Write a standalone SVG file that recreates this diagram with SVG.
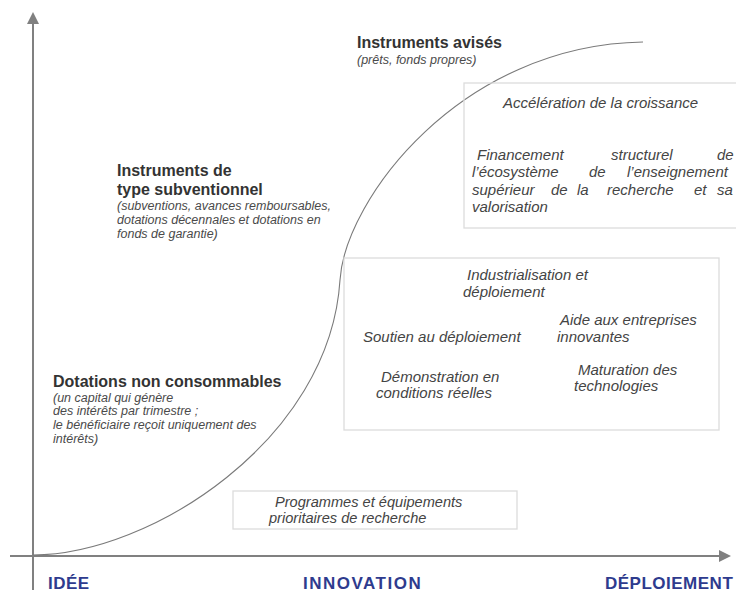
<svg xmlns="http://www.w3.org/2000/svg" width="736" height="592" viewBox="0 0 736 592">
<defs>
<marker id="arr" viewBox="0 0 12 12" refX="0" refY="6" markerWidth="12" markerHeight="12" markerUnits="userSpaceOnUse" orient="auto">
<path d="M0,0 L12,6 L0,12 z" fill="#808080"/>
</marker>
<style>
.t{font-family:"Liberation Sans",Arial,sans-serif;font-weight:bold;font-size:16px;fill:#333}
.s{font-family:"Liberation Sans",Arial,sans-serif;font-style:italic;font-size:12.5px;fill:#4a4a4a}
.b{font-family:"Liberation Sans",Arial,sans-serif;font-style:italic;font-size:15px;fill:#444}
.ax{font-family:"Liberation Sans",Arial,sans-serif;font-weight:bold;font-size:17px;fill:#2e3b8e;letter-spacing:0.5px}
.box{fill:none;stroke:#dcdcdc;stroke-width:1.3}
.axis{stroke:#808080;stroke-width:2;fill:none}
.curve{stroke:#7a7a7a;stroke-width:1.1;fill:none}
</style>
</defs>
<rect width="736" height="592" fill="#fff"/>

<g id="connectors">
<line class="axis" x1="33" y1="590" x2="33" y2="24" marker-end="url(#arr)"/>
<line class="axis" x1="10" y1="556" x2="719" y2="556" marker-end="url(#arr)"/>
<path class="curve" d="M33,555 C150,555 330,440 340,280 C345,200 460,45 643,42"/>
</g>

<g id="axis-labels">
<text class="ax" x="48" y="589">IDÉE</text>
<text class="ax" x="303" y="589" style="letter-spacing:1.5px">INNOVATION</text>
<text class="ax" x="605" y="589">DÉPLOIEMENT</text>
</g>

<g id="instruments-avises">
<text class="t" x="357" y="48">Instruments avisés</text>
<text class="s" x="357" y="64">(prêts, fonds propres)</text>
</g>

<g id="instruments-subventionnel">
<text class="t" x="117" y="176">Instruments de</text>
<text class="t" x="117" y="195">type subventionnel</text>
<text class="s" x="117" y="210">(subventions, avances remboursables,</text>
<text class="s" x="117" y="224">dotations décennales et dotations en</text>
<text class="s" x="117" y="238">fonds de garantie)</text>
</g>

<g id="dotations">
<text class="t" x="53" y="387">Dotations non consommables</text>
<text class="s" x="53" y="402">(un capital qui génère</text>
<text class="s" x="53" y="415">des intérêts par trimestre ;</text>
<text class="s" x="53" y="429">le bénéficiaire reçoit uniquement des</text>
<text class="s" x="53" y="443">intérêts)</text>
</g>

<g id="box-croissance">
<rect class="box" x="464" y="83" width="290" height="145"/>
<text class="b" x="503" y="108">Accélération de la croissance</text>
<text class="b" y="160"><tspan x="477">Financement</tspan><tspan x="611">structurel</tspan><tspan x="717">de</tspan></text>
<text class="b" y="177"><tspan x="472">l’écosystème</tspan><tspan x="589">de</tspan><tspan x="627">l’enseignement</tspan></text>
<text class="b" y="195"><tspan x="472">supérieur</tspan><tspan x="551">de</tspan><tspan x="577">la</tspan><tspan x="607">recherche</tspan><tspan x="694">et</tspan><tspan x="717">sa</tspan></text>
<text class="b" x="472" y="212">valorisation</text>
</g>

<g id="box-innovation">
<rect class="box" x="344" y="258" width="375" height="172"/>
<text class="b" x="467" y="280">Industrialisation et</text>
<text class="b" x="463" y="297">déploiement</text>
<text class="b" x="560" y="325">Aide aux entreprises</text>
<text class="b" x="557" y="342">innovantes</text>
<text class="b" x="363" y="342">Soutien au déploiement</text>
<text class="b" x="578" y="375">Maturation des</text>
<text class="b" x="574" y="391">technologies</text>
<text class="b" x="381" y="382">Démonstration en</text>
<text class="b" x="376" y="398">conditions réelles</text>
</g>

<g id="box-programmes">
<rect class="box" x="233" y="491" width="284" height="38"/>
<text class="b" x="275" y="507" style="font-size:14.6px">Programmes et équipements</text>
<text class="b" x="269" y="523" style="font-size:14.6px">prioritaires de recherche</text>
</g>
</svg>
